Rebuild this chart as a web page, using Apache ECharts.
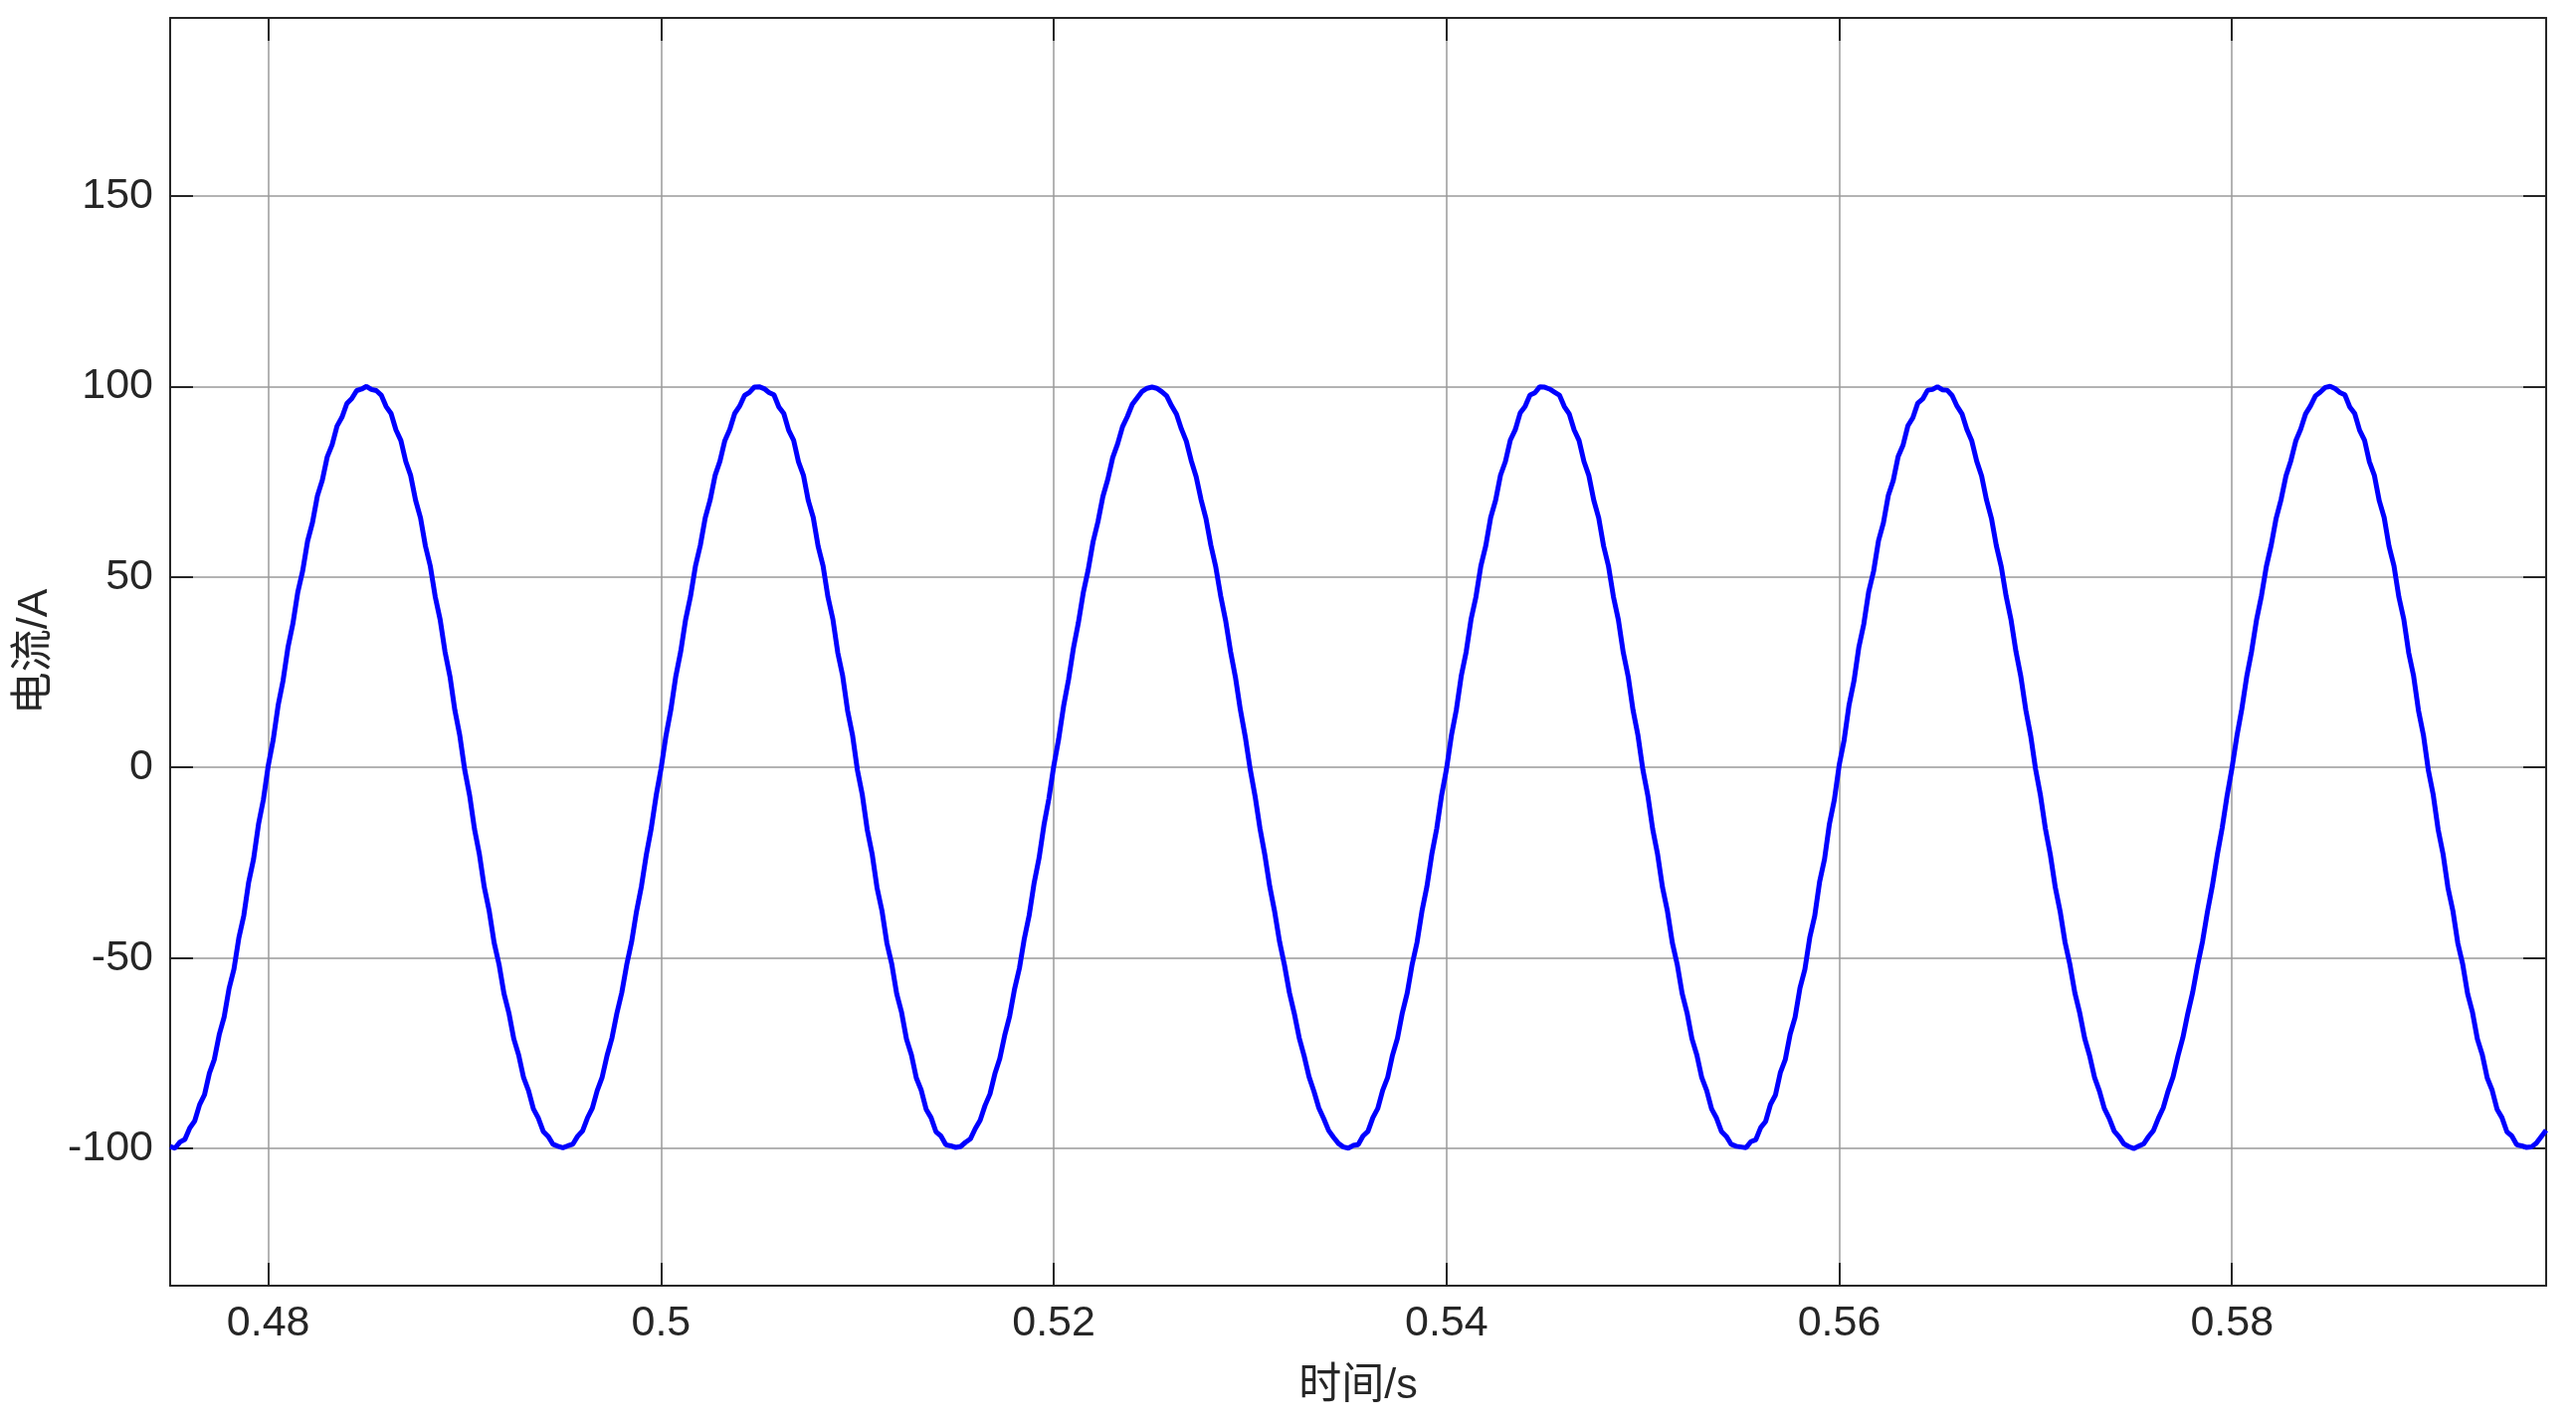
<!DOCTYPE html>
<html>
<head>
<meta charset="utf-8">
<title>电流波形</title>
<script src="https://cdn.jsdelivr.net/npm/echarts@6/dist/echarts.min.js"></script>
<style>
  html, body { margin: 0; padding: 0; background: #fff; }
  #main { width: 2589px; height: 1434px; }
</style>
</head>
<body>
<div id="main"></div>
<script>
// 采样：0.475 s 起，步长 0.25 ms
const t0 = 0.475;
const dt = 0.00025;

// 电流采样值 (A)，从图中读取（含开关纹波）
const current = [
  // 第 1 周期
  -99.5, -99.9, -98.3, -97.6, -94.6, -92.8, -88.5, -85.9, -80.2, -76.6,
  -70.1, -65.5, -58.0, -52.9, -44.7, -38.9, -30.1, -24.0, -14.9, -8.4,
  0.6, 7.3, 16.3, 22.8, 31.5, 37.7, 46.0, 51.6, 59.4, 64.3,
  71.3, 75.4, 81.5, 84.7, 89.6, 91.9, 95.5, 96.8, 98.9, 99.3, 100.0,
  99.2, 98.9, 97.7, 94.7, 92.9, 88.6, 85.8, 80.3, 76.6, 70.1,
  65.5, 58.1, 52.8, 44.8, 38.8, 30.3, 23.9, 15.0, 8.4, -0.6,
  -7.3, -16.2, -22.8, -31.5, -37.7, -46.0, -51.7, -59.3, -64.4, -71.2,
  -75.5, -81.4, -84.8, -89.6, -92.0, -95.5, -96.8, -98.9, -99.4,
  // 第 2 周期
  -99.8, -99.3, -98.9, -96.8, -95.4, -92.0, -89.4, -84.8, -81.3, -75.6,
  -71.0, -64.5, -59.1, -51.8, -45.8, -37.8, -31.2, -22.9, -16.0, -7.4,
  -0.3, 8.3, 15.2, 23.9, 30.4, 38.8, 44.9, 52.8, 58.3, 65.5,
  70.2, 76.6, 80.4, 85.8, 88.7, 92.9, 94.8, 97.6, 98.4, 99.8, 99.9,
  99.4, 98.4, 97.8, 94.6, 92.9, 88.5, 85.9, 80.2, 76.7, 70.0,
  65.6, 58.0, 52.9, 44.7, 38.9, 30.1, 24.0, 14.9, 8.5, -0.7,
  -7.2, -16.3, -22.7, -31.6, -37.6, -46.1, -51.6, -59.4, -64.3, -71.3,
  -75.4, -81.5, -84.7, -89.7, -91.9, -95.6, -96.7, -99.0, -99.3,
  // 第 3 周期
  -99.7, -99.5, -98.4, -97.5, -94.8, -92.6, -88.7, -85.7, -80.4, -76.4,
  -70.3, -65.3, -58.2, -52.7, -44.9, -38.7, -30.3, -23.8, -15.1, -8.2,
  0.4, 7.5, 16.1, 23.0, 31.3, 37.9, 45.8, 51.8, 59.2, 64.5,
  71.1, 75.6, 81.3, 84.9, 89.4, 92.1, 95.3, 97.0, 98.7, 99.5, 99.8,
  99.5, 98.6, 97.5, 94.9, 92.7, 88.8, 85.6, 80.5, 76.3, 70.3,
  65.3, 58.3, 52.6, 45.0, 38.6, 30.5, 23.7, 15.2, 8.1, -0.4,
  -7.5, -16.0, -23.0, -31.3, -37.9, -45.8, -51.9, -59.1, -64.6, -71.0,
  -75.7, -81.2, -85.0, -89.4, -92.2, -95.3, -97.1, -98.7, -99.6,
  // 第 4 周期
  -99.9, -99.2, -99.0, -96.7, -95.5, -91.9, -89.5, -84.7, -81.4, -75.5,
  -71.1, -64.4, -59.2, -51.7, -45.9, -37.7, -31.3, -22.8, -16.1, -7.3,
  -0.4, 8.4, 15.1, 24.0, 30.3, 38.9, 44.8, 52.9, 58.2, 65.6,
  70.1, 76.7, 80.3, 85.9, 88.6, 93.0, 94.7, 97.7, 98.3, 99.9, 99.8,
  99.3, 98.5, 97.7, 94.7, 92.8, 88.6, 85.8, 80.3, 76.6, 70.1,
  65.5, 58.1, 52.8, 44.8, 38.8, 30.2, 23.9, 15.0, 8.4, -0.6,
  -7.3, -16.2, -22.8, -31.5, -37.7, -46.0, -51.7, -59.3, -64.4, -71.2,
  -75.5, -81.4, -84.8, -89.6, -92.0, -95.5, -96.8, -98.9, -99.4,
  // 第 5 周期
  -99.6, -99.8, -98.2, -97.7, -94.5, -92.9, -88.4, -86.0, -80.1, -76.7,
  -70.0, -65.6, -57.9, -53.0, -44.6, -39.0, -30.0, -24.1, -14.8, -8.5,
  0.7, 7.2, 16.4, 22.7, 31.6, 37.6, 46.1, 51.5, 59.5, 64.2,
  71.4, 75.3, 81.6, 84.6, 89.7, 91.8, 95.6, 96.7, 99.0, 99.2, 99.9,
  99.1, 99.0, 97.6, 94.8, 92.8, 88.7, 85.7, 80.4, 76.5, 70.2,
  65.4, 58.2, 52.7, 44.9, 38.7, 30.4, 23.8, 15.1, 8.3, -0.5,
  -7.4, -16.1, -22.9, -31.4, -37.8, -45.9, -51.8, -59.2, -64.5, -71.1,
  -75.6, -81.3, -84.9, -89.5, -92.1, -95.4, -96.9, -98.8, -99.5,
  // 第 6 周期
  -100.0, -99.4, -98.8, -96.9, -95.3, -92.1, -89.3, -84.9, -81.2, -75.7,
  -70.9, -64.6, -59.0, -51.9, -45.7, -37.9, -31.1, -23.0, -15.9, -7.5,
  -0.2, 8.2, 15.3, 23.8, 30.5, 38.7, 45.0, 52.7, 58.4, 65.4,
  70.3, 76.5, 80.5, 85.7, 88.8, 92.8, 94.9, 97.5, 98.5, 99.7, 100.0,
  99.4, 98.4, 97.8, 94.6, 92.9, 88.5, 85.9, 80.2, 76.7, 70.0,
  65.6, 58.0, 52.9, 44.7, 38.9, 30.1, 24.0, 14.9, 8.5, -0.7,
  -7.2, -16.3, -22.7, -31.6, -37.6, -46.1, -51.6, -59.4, -64.3, -71.3,
  -75.4, -81.5, -84.7, -89.7, -91.9, -95.6, -96.7, -99.0, -99.3,
  // 末段
  -99.7, -99.6, -98.6, -96.9, -95.2
];

// 坐标刻度
const xTicks = [0.48, 0.5, 0.52, 0.54, 0.56, 0.58];
const yTicks = [-100, -50, 0, 50, 100, 150];

const xRange = [0.475, 0.596];
const yRange = [-136, 196.7];

const seriesData = current.map((v, i) => [t0 + i * dt, v]);

const chart = echarts.init(document.getElementById('main'));

const fontFamily = 'Liberation Sans, Arial, "Noto Sans CJK SC", sans-serif';
const axisColor = '#262626';
const gridColor = '#9a9a9a';

const tickStyle = (values) => ({
  show: true,
  inside: true,
  length: 23,
  customValues: values,
  lineStyle: { color: axisColor, width: 2 }
});
const lineStyle = { show: true, onZero: false, lineStyle: { color: axisColor, width: 2 } };

const option = {
  backgroundColor: '#fff',
  animation: false,
  grid: {
    left: 171,
    right: 30,
    top: 18,
    bottom: 142,
    outerBoundsMode: 'none'
  },
  xAxis: [
    {
      type: 'value',
      min: xRange[0],
      max: xRange[1],
      name: '时间/s',
      nameLocation: 'middle',
      nameGap: 80,
      nameTextStyle: { fontSize: 43, color: axisColor, fontFamily: fontFamily },
      axisLine: lineStyle,
      axisTick: tickStyle(xTicks),
      axisLabel: {
        customValues: xTicks,
        margin: 17,
        fontSize: 43,
        color: axisColor,
        fontFamily: fontFamily,
        formatter: v => String(+v.toFixed(2))
      },
      splitLine: { show: true, lineStyle: { color: gridColor, width: 1.5 } }
    },
    {
      // 上边框
      type: 'value',
      position: 'top',
      min: xRange[0],
      max: xRange[1],
      axisLine: lineStyle,
      axisTick: tickStyle(xTicks),
      axisLabel: { show: false },
      splitLine: { show: false }
    }
  ],
  yAxis: [
    {
      type: 'value',
      min: yRange[0],
      max: yRange[1],
      name: '电流/A',
      nameLocation: 'middle',
      nameGap: 114,
      nameRotate: 90,
      nameTextStyle: { fontSize: 43, color: axisColor, fontFamily: fontFamily },
      axisLine: lineStyle,
      axisTick: tickStyle(yTicks),
      axisLabel: {
        customValues: yTicks,
        margin: 17,
        fontSize: 43,
        color: axisColor,
        fontFamily: fontFamily
      },
      splitLine: { show: true, lineStyle: { color: gridColor, width: 1.5 } }
    },
    {
      // 右边框
      type: 'value',
      position: 'right',
      min: yRange[0],
      max: yRange[1],
      axisLine: lineStyle,
      axisTick: tickStyle(yTicks),
      axisLabel: { show: false },
      splitLine: { show: false }
    }
  ],
  series: [
    {
      type: 'line',
      xAxisIndex: 0,
      yAxisIndex: 0,
      data: seriesData,
      showSymbol: false,
      symbol: 'none',
      lineStyle: { color: '#0000ff', width: 5 },
      clip: true
    }
  ]
};

chart.setOption(option);
</script>
</body>
</html>
